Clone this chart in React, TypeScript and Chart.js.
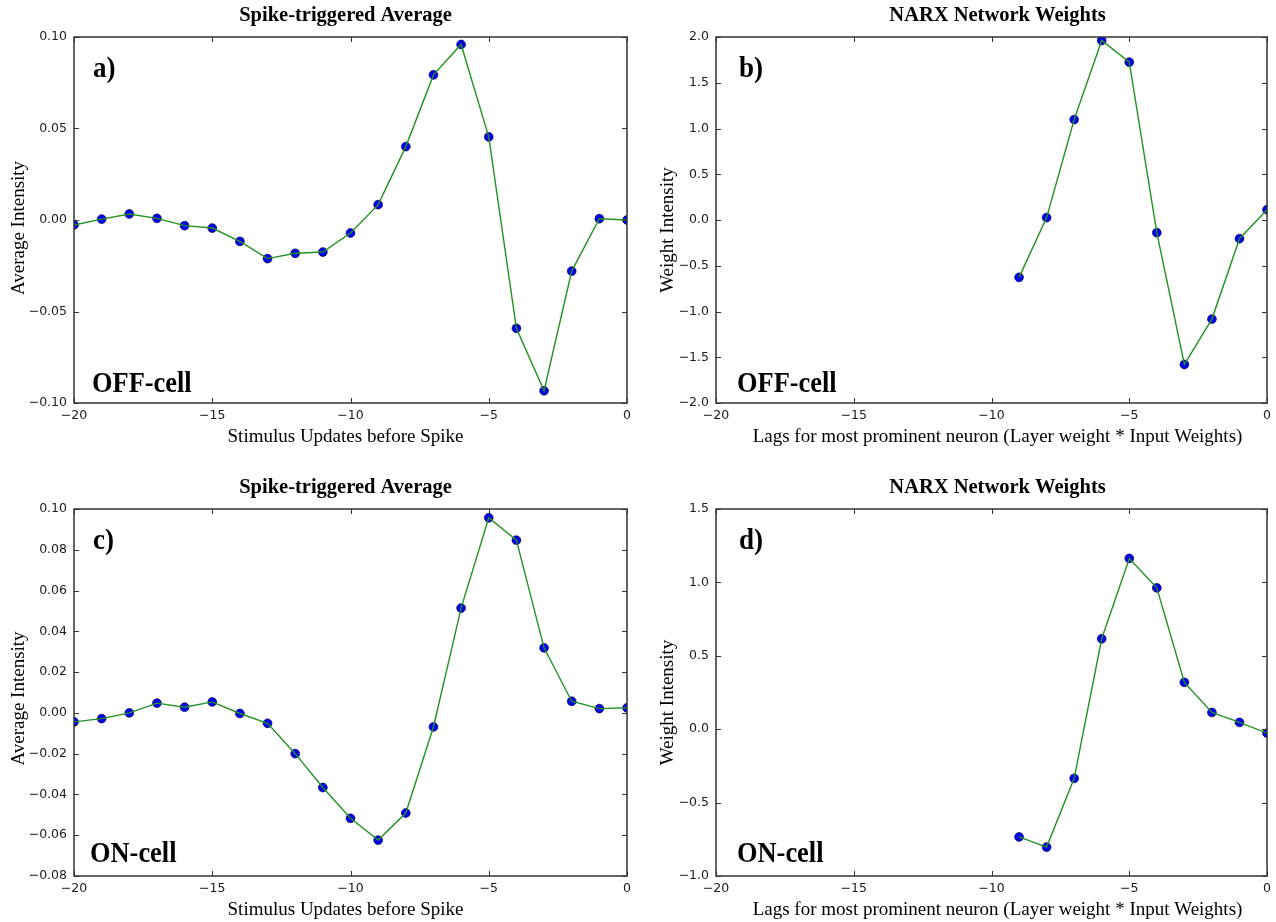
import React, { useEffect, useRef } from "react";
import { Chart, registerables } from "chart.js";

Chart.register(...registerables);

// ---------- data ----------
const staLags = [-20, -19, -18, -17, -16, -15, -14, -13, -12, -11, -10, -9, -8, -7, -6, -5, -4, -3, -2, -1, 0];
const offStaValues = [-0.0027, 0.0005, 0.0033, 0.0009, -0.0031, -0.0044, -0.0117, -0.0211, -0.0182, -0.0175, -0.0071, 0.0084, 0.0401, 0.0793, 0.0959, 0.0454, -0.0592, -0.0933, -0.0279, 0.0007, 0.0];
const onStaValues = [-0.0044, -0.0028, 0.0, 0.0048, 0.0028, 0.0054, -0.0003, -0.0051, -0.02, -0.0366, -0.0517, -0.0624, -0.0491, -0.0069, 0.0514, 0.0957, 0.0847, 0.0319, 0.0057, 0.0021, 0.0025];

const narxLags = [-9, -8, -7, -6, -5, -4, -3, -2, -1, 0];
const offNarxValues = [-0.627, 0.026, 1.098, 1.962, 1.725, -0.139, -1.579, -1.083, -0.204, 0.113];
const onNarxValues = [-0.734, -0.803, -0.335, 0.616, 1.163, 0.963, 0.319, 0.114, 0.046, -0.027];

const xTickValues = [-20, -15, -10, -5, 0];
const offStaTicks = [-0.1, -0.05, 0, 0.05, 0.1];
const onStaTicks = [-0.08, -0.06, -0.04, -0.02, 0, 0.02, 0.04, 0.06, 0.08, 0.1];
const offNarxTicks = [-2, -1.5, -1, -0.5, 0, 0.5, 1, 1.5, 2];
const onNarxTicks = [-1, -0.5, 0, 0.5, 1, 1.5];

const staTitle = "Spike-triggered Average";
const narxTitle = "NARX Network Weights";
const staXLabel = "Stimulus Updates before Spike";
const narxXLabel = "Lags for most prominent neuron (Layer weight * Input Weights)";
const staYLabel = "Average Intensity";
const narxYLabel = "Weight Intensity";

// ---------- styles ----------
const GREEN = "#229222";
const BLUE = "#0000ee";
const FRAME = "#333333";
const SERIF = '"Liberation Serif", "Times New Roman", serif';
const SANS = '"DejaVu Sans", sans-serif';

function fmt(v: number, decimals: number) {
  const s = Math.abs(v).toFixed(decimals);
  return (v < -1e-9 ? "\u2212" : "") + s;
}

type PanelCfg = {
  left: number; top: number; width: number; height: number;
  padTop: number; padRight: number; yAxisWidth: number; xAxisHeight: number;
  xs: number[]; ys: number[]; yTicks: number[]; decimals: number;
  title: string; xLabel: string; yLabel: string; letter: string; cell: string;
  titleDx: number; yLabelDx: number; yLabelDy: number;
  letterDx: number; cellDx: number; cellDy: number;
};

const panels: PanelCfg[] = [
  {
    left: 0, top: 0, width: 640, height: 460, padTop: 37, padRight: 13, yAxisWidth: 74, xAxisHeight: 57,
    xs: staLags, ys: offStaValues, yTicks: offStaTicks, decimals: 2,
    title: staTitle, xLabel: staXLabel, yLabel: staYLabel, letter: "a)", cell: "OFF-cell",
    titleDx: -5, yLabelDx: -50, yLabelDy: 8, letterDx: 19, cellDx: 18, cellDy: -11,
  },
  {
    left: 640, top: 0, width: 636, height: 460, padTop: 37, padRight: 7, yAxisWidth: 76, xAxisHeight: 57,
    xs: narxLags, ys: offNarxValues, yTicks: offNarxTicks, decimals: 1,
    title: narxTitle, xLabel: narxXLabel, yLabel: narxYLabel, letter: "b)", cell: "OFF-cell",
    titleDx: 6, yLabelDx: -43, yLabelDy: 10, letterDx: 23, cellDx: 21, cellDy: -11,
  },
  {
    left: 0, top: 460, width: 640, height: 462, padTop: 49, padRight: 13, yAxisWidth: 74, xAxisHeight: 46,
    xs: staLags, ys: onStaValues, yTicks: onStaTicks, decimals: 2,
    title: staTitle, xLabel: staXLabel, yLabel: staYLabel, letter: "c)", cell: "ON-cell",
    titleDx: -5, yLabelDx: -50, yLabelDy: 6, letterDx: 19, cellDx: 16, cellDy: -14,
  },
  {
    left: 640, top: 460, width: 636, height: 462, padTop: 49, padRight: 7, yAxisWidth: 76, xAxisHeight: 46,
    xs: narxLags, ys: onNarxValues, yTicks: onNarxTicks, decimals: 1,
    title: narxTitle, xLabel: narxXLabel, yLabel: narxYLabel, letter: "d)", cell: "ON-cell",
    titleDx: 6, yLabelDx: -43, yLabelDy: 10, letterDx: 23, cellDx: 21, cellDy: -14,
  },
];

function makeDecorPlugin(cfg: PanelCfg) {
  return {
    id: "decor",
    afterDraw(chart: any) {
      const ctx = chart.ctx as CanvasRenderingContext2D;
      const a = chart.chartArea;
      const xs = chart.scales.x;
      const ys = chart.scales.y;
      ctx.save();
      // inward ticks
      ctx.strokeStyle = FRAME;
      ctx.lineWidth = 1;
      const tl = 5;
      ctx.beginPath();
      for (const t of xs.ticks) {
        const px = Math.round(xs.getPixelForValue(t.value)) + 0.5;
        ctx.moveTo(px, a.bottom);
        ctx.lineTo(px, a.bottom - tl);
        ctx.moveTo(px, a.top);
        ctx.lineTo(px, a.top + tl);
      }
      for (const t of ys.ticks) {
        const py = Math.round(ys.getPixelForValue(t.value)) + 0.5;
        ctx.moveTo(a.left, py);
        ctx.lineTo(a.left + tl, py);
        ctx.moveTo(a.right, py);
        ctx.lineTo(a.right - tl, py);
      }
      ctx.stroke();
      // frame
      ctx.lineWidth = 1.5;
      ctx.strokeRect(a.left, a.top, a.right - a.left, a.bottom - a.top);

      const cx = (a.left + a.right) / 2;
      const cy = (a.top + a.bottom) / 2;
      ctx.fillStyle = "#000";
      ctx.textBaseline = "alphabetic";

      // title
      ctx.font = `bold 20.5px ${SERIF}`;
      ctx.textAlign = "center";
      ctx.fillText(cfg.title, cx + cfg.titleDx, a.top - 16.5);

      // x label
      ctx.font = `19px ${SERIF}`;
      ctx.fillText(cfg.xLabel, cx + cfg.titleDx, a.bottom + 38.5);

      // y label
      ctx.save();
      ctx.translate(a.left + cfg.yLabelDx, cy + cfg.yLabelDy);
      ctx.rotate(-Math.PI / 2);
      ctx.textAlign = "center";
      ctx.fillText(cfg.yLabel, 0, 0);
      ctx.restore();

      // panel letter and cell label
      ctx.font = `bold 30px ${SERIF}`;
      ctx.textAlign = "left";
      ctx.save();
      ctx.translate(a.left + cfg.letterDx, a.top + 40);
      ctx.scale(0.9, 1);
      ctx.fillText(cfg.letter, 0, 0);
      ctx.restore();
      ctx.save();
      ctx.translate(a.left + cfg.cellDx, a.bottom + cfg.cellDy);
      ctx.scale(0.88, 1);
      ctx.fillText(cfg.cell, 0, 0);
      ctx.restore();

      ctx.restore();
    },
  };
}

function Panel({ cfg }: { cfg: PanelCfg }) {
  const ref = useRef<HTMLCanvasElement | null>(null);
  useEffect(() => {
    if (!ref.current) return;
    const pts = cfg.xs.map((x, i) => ({ x, y: cfg.ys[i] }));
    const yMin = cfg.yTicks[0];
    const yMax = cfg.yTicks[cfg.yTicks.length - 1];
    const chart = new Chart(ref.current, {
      type: "line",
      data: {
        datasets: [
          {
            data: pts,
            borderColor: GREEN,
            borderWidth: 1.4,
            pointRadius: 0,
            fill: false,
            tension: 0,
          },
          {
            data: pts,
            showLine: false,
            borderWidth: 0,
            pointRadius: 4.4,
            pointBackgroundColor: BLUE,
            pointBorderColor: "#000050",
            pointBorderWidth: 0.7,
          },
        ],
      },
      options: {
        animation: false,
        responsive: false,
        maintainAspectRatio: false,
        events: [],
        layout: { padding: { top: cfg.padTop, right: cfg.padRight, left: 0, bottom: 0 } },
        plugins: { legend: { display: false }, tooltip: { enabled: false }, title: { display: false } },
        scales: {
          x: {
            type: "linear",
            min: -20,
            max: 0,
            grid: { display: false, drawTicks: false },
            border: { display: false },
            afterBuildTicks: (s: any) => {
              s.ticks = xTickValues.map((v) => ({ value: v }));
            },
            afterFit: (s: any) => {
              s.height = cfg.xAxisHeight;
            },
            ticks: {
              padding: 5,
              color: "#1a1a1a",
              font: { family: SANS, size: 12.5 },
              maxRotation: 0,
              autoSkip: false,
              callback: (v: any) => fmt(Number(v), 0),
            },
          },
          y: {
            type: "linear",
            min: yMin,
            max: yMax,
            grid: { display: false, drawTicks: false },
            border: { display: false },
            afterBuildTicks: (s: any) => {
              s.ticks = cfg.yTicks.map((v) => ({ value: v }));
            },
            afterFit: (s: any) => {
              s.width = cfg.yAxisWidth;
            },
            ticks: {
              padding: 7,
              color: "#1a1a1a",
              font: { family: SANS, size: 12.5 },
              autoSkip: false,
              callback: (v: any) => fmt(Number(v), cfg.decimals),
            },
          },
        },
      },
      plugins: [makeDecorPlugin(cfg)],
    } as any);
    return () => chart.destroy();
  }, [cfg]);
  return (
    <canvas
      ref={ref}
      width={cfg.width}
      height={cfg.height}
      style={{ position: "absolute", left: cfg.left, top: cfg.top, width: cfg.width, height: cfg.height }}
    />
  );
}

export default function App() {
  return (
    <div style={{ position: "fixed", left: 0, top: 0, width: 1276, height: 922, background: "#fff" }}>
      {panels.map((p, i) => (
        <Panel key={i} cfg={p} />
      ))}
    </div>
  );
}
